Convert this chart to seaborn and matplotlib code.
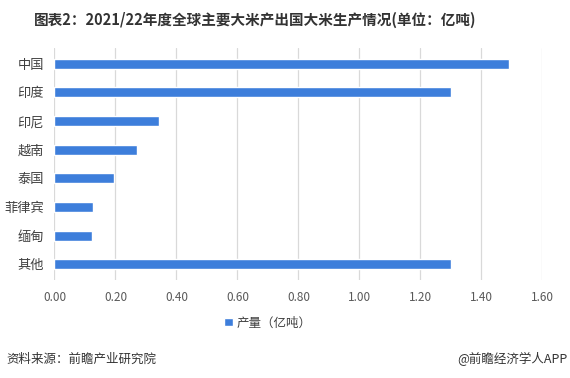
import matplotlib.pyplot as plt
import seaborn as sns
import pandas as pd

countries = ['中国', '印度', '印尼', '越南', '泰国', '菲律宾', '缅甸', '其他']
output = [1.49, 1.30, 0.343, 0.27, 0.195, 0.125, 0.122, 1.30]
ticks = [0.0, 0.2, 0.4, 0.6, 0.8, 1.0, 1.2, 1.4, 1.6]
series_name = '产量（亿吨）'

bar_blue = '#3d7edb'
texto = '#333333'

df = pd.DataFrame({'国家': countries, '产量': output})

sns.set_style('white')
plt.rcParams['font.family'] = ['Noto Sans CJK SC', 'DejaVu Sans']

fig = plt.figure(figsize=(5.7, 3.78), dpi=100)
ax = fig.add_axes([0.0956, 0.259, 0.856, 0.614])

sns.barplot(data=df, x='产量', y='国家', color=bar_blue, width=0.35,
            saturation=1, label=series_name, ax=ax, zorder=3)

ax.set_xlim(0, 1.6)
ax.set_ylim(7.55, -0.55)
ax.set_xticks(ticks)
ax.set_xticklabels([f'{t:.2f}' for t in ticks], fontsize=8.5, color='#595959')
ax.tick_params(axis='y', labelsize=9.5, colors='#404040', length=0, pad=7.5)
ax.tick_params(axis='x', length=0, pad=8)
ax.set_xlabel('')
ax.set_ylabel('')
ax.grid(axis='x', color='#d9d9d9', linewidth=0.9, zorder=0)
for s in ax.spines.values():
    s.set_visible(False)

if ax.legend_:
    ax.legend_.remove()
fig.legend(handles=ax.patches[:1], labels=[series_name], loc='center',
           bbox_to_anchor=(0.47, 0.146), frameon=False, fontsize=9,
           handlelength=0.7, handleheight=0.7, handletextpad=0.3,
           labelcolor='#404040')

fig.text(0.447, 0.947, '图表2：2021/22年度全球主要大米产出国大米生产情况(单位：亿吨)',
         ha='center', va='center', fontsize=10.5, fontweight='bold', color=texto)
fig.text(0.012, 0.05, '资料来源：前瞻产业研究院', ha='left', va='center',
         fontsize=9, color=texto)
fig.text(0.995, 0.05, '@前瞻经济学人APP', ha='right', va='center',
         fontsize=9, color=texto)

plt.savefig('out.png', dpi=100)
